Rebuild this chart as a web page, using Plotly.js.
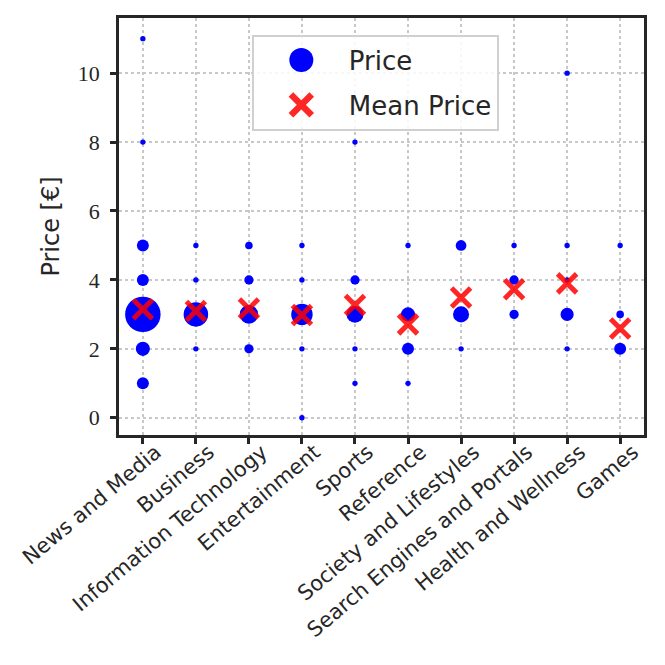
<!DOCTYPE html>
<html>
<head>
<meta charset="utf-8">
<script src="https://cdn.plot.ly/plotly-3.0.1.min.js"></script>
<style>
  html, body { margin: 0; padding: 0; background: #fff; }
  #chart { width: 665px; height: 665px; }
</style>
</head>
<body>
<div id="chart"></div>
<script>
// categories along the x axis
const categories = [
    'News and Media', 'Business', 'Information Technology', 'Entertainment', 'Sports',
    'Reference', 'Society and Lifestyles', 'Search Engines and Portals', 'Health and Wellness', 'Games'
];

// observed price levels per category and how many apps sit at each level
const priceLevels = [
    [11, 8, 5, 4, 3, 2, 1],
    [5, 4, 3, 2],
    [5, 4, 3, 2],
    [5, 4, 3, 2, 0],
    [8, 4, 3, 2, 1],
    [5, 3, 2, 1],
    [5, 3, 2],
    [5, 4, 3],
    [10, 5, 4, 3, 2],
    [5, 3, 2]
];
const priceCounts = [
    [1, 1, 5, 5, 44, 7, 5],
    [1, 1, 21, 1],
    [2, 3, 12, 3],
    [1, 1, 16, 1, 1],
    [1, 3, 10, 1, 1],
    [1, 7, 5, 1],
    [4, 9, 1],
    [1, 3, 3],
    [1, 1, 1, 6, 1],
    [1, 2, 5]
];

// mean price per category
const meanPrice = [3.15, 3.10, 3.17, 2.98, 3.27, 2.71, 3.49, 3.73, 3.90, 2.59];

const yTicks = [0, 2, 4, 6, 8, 10];

// flatten points for the scatter trace
const px = [], py = [], pc = [];
priceLevels.forEach((levels, i) => {
    levels.forEach((p, j) => {
        px.push(categories[i]);
        py.push(p);
        pc.push(priceCounts[i][j]);
    });
});

const sansFont = "'DejaVu Sans', sans-serif";
const serifFont = "'Liberation Serif', 'DejaVu Serif', serif";
const gridColor = '#c8c8c8';
const frameColor = '#262626';

const traces = [
    {
        x: px,
        y: py,
        type: 'scatter',
        mode: 'markers',
        name: 'Price',
        legendgroup: 'a',
        marker: {
            color: '#0000ff',
            opacity: 1,
            size: pc,
            sizemode: 'area',
            sizeref: 0.07,
            line: { width: 0 }
        }
    },
    {
        x: categories,
        y: meanPrice,
        type: 'scatter',
        mode: 'markers',
        name: 'Mean Price',
        legendgroup: 'b',
        marker: {
            symbol: 'x-thin',
            size: 19,
            color: 'rgba(255,0,0,0.85)',
            line: { width: 5, color: 'rgba(255,0,0,0.85)' }
        }
    }
];

const layout = {
    width: 665,
    height: 665,
    paper_bgcolor: '#fff',
    plot_bgcolor: '#fff',
    margin: { l: 119, r: 21, t: 18, b: 230 },
    font: { family: sansFont, color: '#262626' },
    showlegend: true,
    legend: {
        x: 0.253, y: 0.96,
        xanchor: 'left', yanchor: 'top',
        bgcolor: 'rgba(255,255,255,0.85)',
        bordercolor: '#d0d0d0',
        borderwidth: 2,
        font: { family: sansFont, size: 26, color: '#262626' },
        itemsizing: 'trace',
        itemwidth: 85,
        traceorder: 'grouped',
        tracegroupgap: 8,
        entrywidth: 204
    },
    xaxis: {
        type: 'category',
        categoryorder: 'array',
        categoryarray: categories,
        range: [-0.45, 9.45],
        tickangle: -40,
        tickfont: { family: sansFont, size: 21, color: '#262626' },
        ticklabelshift: 13,
        ticks: 'outside',
        ticklen: 6,
        tickwidth: 2.5,
        tickcolor: frameColor,
        showline: true,
        linecolor: frameColor,
        linewidth: 2.5,
        mirror: true,
        showgrid: true,
        gridcolor: gridColor,
        gridwidth: 1.5,
        griddash: 'dot',
        zeroline: false
    },
    yaxis: {
        range: [-0.5, 11.6],
        tickvals: yTicks,
        ticktext: yTicks.map(String),
        tickfont: { family: serifFont, size: 22, color: '#262626' },
        ticklabelstandoff: 6,
        ticks: 'outside',
        ticklen: 6,
        tickwidth: 2.5,
        tickcolor: frameColor,
        showline: true,
        linecolor: frameColor,
        linewidth: 2.5,
        mirror: true,
        showgrid: true,
        gridcolor: gridColor,
        gridwidth: 1.5,
        griddash: 'dot',
        zeroline: false,
        title: { text: 'Price [€]', font: { family: sansFont, size: 24, color: '#262626' }, standoff: 12 }
    }
};

Plotly.newPlot('chart', traces, layout, { displayModeBar: false, responsive: false }).then(gd => {
    // enlarge the legend symbols to match the matplotlib legend
    const pts = gd.querySelectorAll('.legend .traces .legendpoints path');
    if (pts[0]) pts[0].setAttribute('d', 'M12,0A12,12 0 1,1 0,-12A12,12 0 0,1 12,0Z');
    if (pts[1]) pts[1].setAttribute('transform', (pts[1].getAttribute('transform') || '') + ' scale(1.3)');
    // pull the rotated category labels a little closer to the axis
    gd.querySelectorAll('.xaxislayer-above g.xtick').forEach(g => {
        g.setAttribute('transform', 'translate(0,-12)');
    });
});
</script>
</body>
</html>
